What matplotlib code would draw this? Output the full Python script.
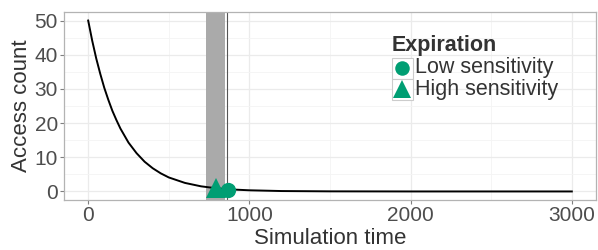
import numpy as np
import matplotlib.pyplot as plt
from matplotlib.patches import Rectangle
from matplotlib.ticker import MultipleLocator

plt.rcParams['font.family'] = ['Liberation Sans', 'DejaVu Sans']

# curve
sim_time = [0, 25, 50, 75, 100, 125, 150, 175, 200, 250, 300, 350, 400, 450, 500,
            600, 700, 800, 900, 1000, 1200, 1500, 2000, 2500, 3000]
access = [50, 44.1, 38.9, 34.4, 30.3, 26.8, 23.6, 20.9, 18.4, 14.3, 11.2, 8.7, 6.8, 5.3, 4.1,
          2.5, 1.5, 0.9, 0.56, 0.34, 0.12, 0.03, 0.0, 0.0, 0.0]

band_start, band_end = 733, 846
vline_x = 860

marker_labels = ['Low sensitivity', 'High sensitivity']
marker_x = [866, 795]
marker_y = [0.55, 0.9]
marker_shapes = ['o', '^']
marker_sizes = [11, 15]

teal = '#009E73'
txt = '#4D4D4D'

fig = plt.figure(figsize=(5.98, 2.5), dpi=100)
ax = fig.add_axes([64 / 598, 50 / 250, 532 / 598, 188 / 250])

ax.axvspan(band_start, band_end, color='#AAAAAA', lw=0, zorder=1)
ax.axvline(vline_x, color='#555555', lw=0.8, zorder=2)
ax.plot(sim_time, access, color='black', lw=1.4, zorder=3)
for x, y, m, s in zip(marker_x, marker_y, marker_shapes, marker_sizes):
    ax.plot([x], [y], marker=m, ms=s, color=teal, mew=0, ls='none', zorder=4)

ax.set_xlim(-150, 3150)
ax.set_ylim(-2.5, 52.5)
ax.xaxis.set_major_locator(MultipleLocator(1000))
ax.xaxis.set_minor_locator(MultipleLocator(500))
ax.yaxis.set_major_locator(MultipleLocator(10))
ax.yaxis.set_minor_locator(MultipleLocator(5))
ax.grid(which='major', color='#EBEBEB', lw=0.9, zorder=0)
ax.grid(which='minor', color='#F4F4F4', lw=0.6, zorder=0)
ax.set_axisbelow(True)
ax.tick_params(which='major', length=3, width=0.8, color='#7F7F7F', pad=1.5,
               labelsize=15, labelcolor=txt)
ax.tick_params(which='minor', length=0)
for sp in ax.spines.values():
    sp.set_color('#B3B3B3')
    sp.set_linewidth(0.9)

ax.set_xlabel('Simulation time', fontsize=16, color='#333333', labelpad=2)
ax.set_ylabel('Access count', fontsize=16, color='#333333', labelpad=2)

# legend drawn by hand (ggplot style keys)
def ax_x(px):
    return (px - 64) / 532

def ax_y(py):
    return (200 - py) / 188

ax.text(ax_x(392), ax_y(45), 'Expiration', transform=ax.transAxes, fontsize=15.5,
        fontweight='bold', color='#333333', va='center', ha='left')
key_tops = [57.5, 78.5]
for i, lab in enumerate(marker_labels):
    top = key_tops[i]
    ax.add_patch(Rectangle((ax_x(391.5), ax_y(top + 21)), 21 / 532, 21 / 188,
                           transform=ax.transAxes, facecolor='white',
                           edgecolor='#CCCCCC', lw=0.8, zorder=5))
    ax.plot([ax_x(402)], [ax_y(top + 10.5)], marker=marker_shapes[i],
            ms=marker_sizes[i] * (0.95 if i == 0 else 0.9), color=teal, mew=0,
            transform=ax.transAxes, zorder=6, clip_on=False)
    ax.text(ax_x(415), ax_y(top + 10.5), lab, transform=ax.transAxes, fontsize=15.5,
            color='#333333', va='center', ha='left', zorder=6)

fig.savefig('out.png', dpi=100)
